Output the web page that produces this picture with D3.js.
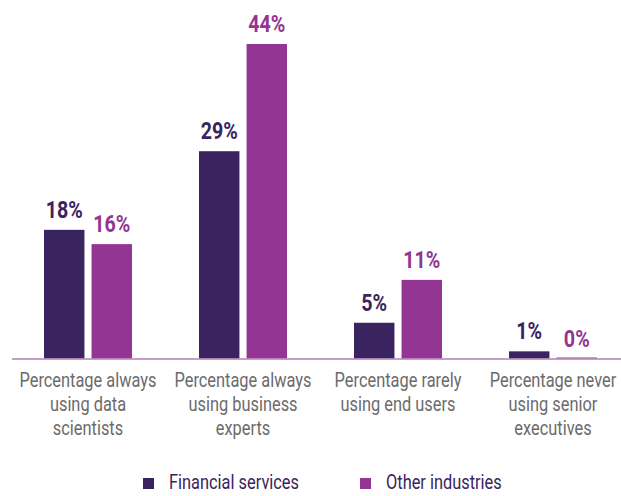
<!DOCTYPE html>
<html>
<head>
<meta charset="utf-8">
<script src="https://cdn.jsdelivr.net/npm/d3@7"></script>
<style>
  body { margin: 0; background: #fff; }
  svg { display: block; }
</style>
</head>
<body>
<svg id="chart"></svg>
<script>
const categories = [
    ['Percentage always', 'using data', 'scientists'],
    ['Percentage always', 'using business', 'experts'],
    ['Percentage rarely', 'using end users'],
    ['Percentage never', 'using senior', 'executives']
];
const seriesNames = ['Financial services', 'Other industries'];
const financial = [18, 29, 5, 1];
const other = [16, 44, 11, 0];

const COLORS = ['#3a2460', '#933592'],
    W = 621, H = 496,
    BASE_Y = 358.5,
    SX = 0.82, // squeeze text horizontally, the original uses a condensed face
    FONT = 'Roboto, "Open Sans", sans-serif';

const svg = d3.select('svg#chart').attr('width', W).attr('height', H);

const x = d3.scaleBand()
    .domain(d3.range(categories.length))
    .range([10.5, 630.5]);

const inner = d3.scaleBand()
    .domain(d3.range(seriesNames.length))
    .range([0, 88])
    .paddingInner(0.15);

const y = d3.scaleLinear().domain([0, 44]).range([BASE_Y, 44]);

const rows = categories.map((c, i) => ({ i, values: [financial[i], other[i]] }));

const group = svg.selectAll('g.group').data(rows).enter().append('g')
    .attr('class', 'group')
    .attr('transform', d => `translate(${x(d.i) + x.bandwidth() / 2 - 44},0)`);

const bar = group.selectAll('g.bar')
    .data(d => d.values.map((v, s) => ({ v, s })))
    .enter().append('g').attr('class', 'bar');

bar.append('rect')
    .attr('x', d => inner(d.s))
    .attr('width', inner.bandwidth())
    .attr('y', d => Math.min(y(d.v), BASE_Y - 1))
    .attr('height', d => Math.max(BASE_Y - y(d.v), 1))
    .attr('fill', d => COLORS[d.s]);

bar.append('text')
    .attr('transform', d => `translate(${inner(d.s) + inner.bandwidth() / 2},${y(d.v) - 12}) scale(${SX},1)`)
    .attr('text-anchor', 'middle')
    .attr('font-family', FONT)
    .attr('font-weight', 'bold')
    .attr('font-size', 24)
    .attr('fill', d => COLORS[d.s])
    .text(d => d.v + '%');

// baseline
svg.append('line')
    .attr('x1', 12).attr('x2', W)
    .attr('y1', BASE_Y + 0.5).attr('y2', BASE_Y + 0.5)
    .attr('stroke', '#b27cb4').attr('stroke-width', 1.5);

// category labels
categories.forEach((lines, i) => {
    const t = svg.append('text')
        .attr('transform', `translate(${x(i) + x.bandwidth() / 2},387) scale(${SX},1)`)
        .attr('text-anchor', 'middle')
        .attr('font-family', FONT)
        .attr('font-size', 20)
        .attr('fill', '#6b6b6b');
    lines.forEach((l, k) => {
        t.append('tspan')
            .attr('x', 0)
            .attr('dy', k === 0 ? 0 : 24)
            .text(l);
    });
});

// legend
const legendX = [143, 360];
const legend = svg.selectAll('g.legend').data(seriesNames).enter().append('g')
    .attr('class', 'legend')
    .attr('transform', (d, i) => `translate(${legendX[i]},478)`);
legend.append('rect').attr('width', 11).attr('height', 11).attr('fill', (d, i) => COLORS[i]);
legend.append('text')
    .attr('transform', `translate(26,11) scale(${SX},1)`)
    .attr('font-family', FONT)
    .attr('font-size', 20)
    .attr('fill', COLORS[0])
    .text(d => d);
</script>
</body>
</html>
